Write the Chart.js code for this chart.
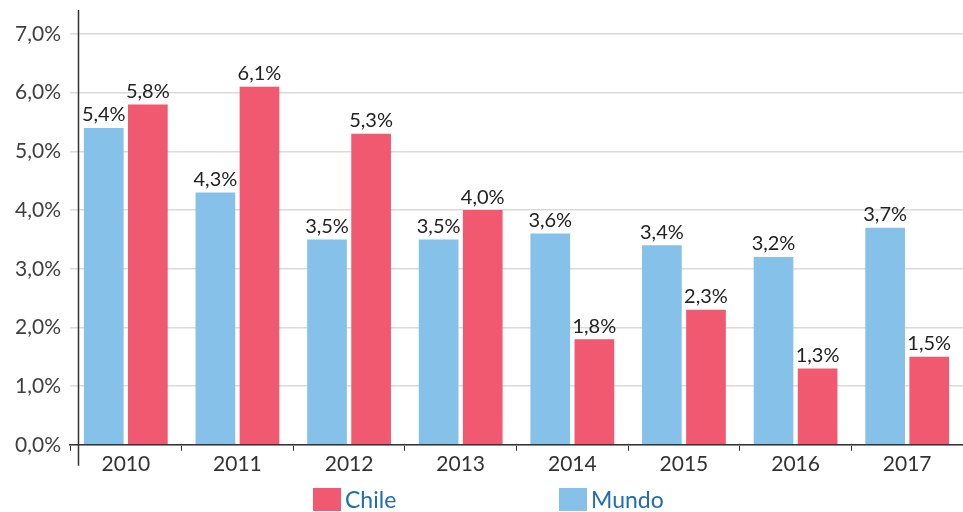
<!DOCTYPE html>
<html>
<head>
<meta charset="utf-8">
<script src="https://cdn.jsdelivr.net/npm/chart.js@4.4.0/dist/chart.umd.min.js"></script>
<style>
  body { margin: 0; background: #fff; }
  #wrap { position: relative; width: 963px; height: 512px; }
  #legend { position: absolute; left: 313px; top: 488px; display: flex; font-family: Lato, sans-serif; }
  .item { display: flex; align-items: center; width: 246px; }
  .item span.box { display: inline-block; width: 28px; height: 23px; margin-right: 4px; }
  .item span.txt { font-size: 23px; color: #1f6db4; line-height: 23px; }
</style>
</head>
<body>
<div id="wrap">
  <canvas id="chart" width="963" height="512"></canvas>
  <div id="legend"></div>
</div>
<script>
// datos
const years = ["2010", "2011", "2012", "2013", "2014", "2015", "2016", "2017"];
const mundo = [5.4, 4.3, 3.5, 3.5, 3.6, 3.4, 3.2, 3.7];
const chile = [5.8, 6.1, 5.3, 4.0, 1.8, 2.3, 1.3, 1.5];

const fmt = v => v.toFixed(1).replace(".", ",") + "%";

// etiquetas sobre las barras
const valueLabels = {
    id: "valueLabels",
    afterDatasetsDraw(chart) {
        const ctx = chart.ctx;
        ctx.save();
        ctx.font = "20px Lato";
        ctx.fillStyle = "#222";
        ctx.textAlign = "center";
        ctx.textBaseline = "bottom";
        chart.data.datasets.forEach((ds, i) => {
            chart.getDatasetMeta(i).data.forEach((bar, j) => {
                ctx.fillText(fmt(ds.data[j]), bar.x, bar.y - 3);
            });
        });
        ctx.restore();
    }
};

// eje vertical
const yLine = {
    id: "yLine",
    afterDraw(chart) {
        const a = chart.chartArea;
        const ctx = chart.ctx;
        ctx.save();
        ctx.strokeStyle = "#333";
        ctx.lineWidth = 1.5;
        ctx.beginPath();
        ctx.moveTo(a.left + 8.5, a.top - 24);
        ctx.lineTo(a.left + 8.5, a.bottom + 21);
        ctx.stroke();
        ctx.restore();
    }
};

const chart = new Chart(document.getElementById("chart"), {
    type: "bar",
    data: {
        labels: years,
        datasets: [
            { label: "Mundo", data: mundo, backgroundColor: "#85C1E9" },
            { label: "Chile", data: chile, backgroundColor: "#F05970" }
        ]
    },
    options: {
        responsive: false,
        animation: false,
        layout: { padding: { top: 34, right: 0, bottom: 34, left: 0 } },
        datasets: { bar: { categoryPercentage: 0.79, barPercentage: 0.9 } },
        scales: {
            x: {
                grid: { drawOnChartArea: false, tickLength: 6, color: "#333" },
                border: { color: "#333", width: 1.5 },
                ticks: { font: { family: "Lato", size: 21 }, color: "#333", padding: 1 }
            },
            y: {
                min: 0,
                max: 7,
                afterFit(scale) { scale.width = 70; },
                grid: { color: "#dadada", drawTicks: false, lineWidth: 1.5 },
                border: { display: false },
                ticks: {
                    stepSize: 1,
                    font: { family: "Lato", size: 21 },
                    color: "#404040",
                    padding: 9,
                    callback: v => fmt(v)
                }
            }
        },
        plugins: {
            legend: { display: false },
            tooltip: { enabled: false }
        }
    },
    plugins: [valueLabels, yLine]
});

// leyenda (Chile primero)
const legend = document.getElementById("legend");
chart.data.datasets.slice().reverse().forEach(ds => {
    const item = document.createElement("div");
    item.className = "item";
    item.innerHTML = '<span class="box" style="background:' + ds.backgroundColor + '"></span><span class="txt">' + ds.label + '</span>';
    legend.appendChild(item);
});
</script>
</body>
</html>
